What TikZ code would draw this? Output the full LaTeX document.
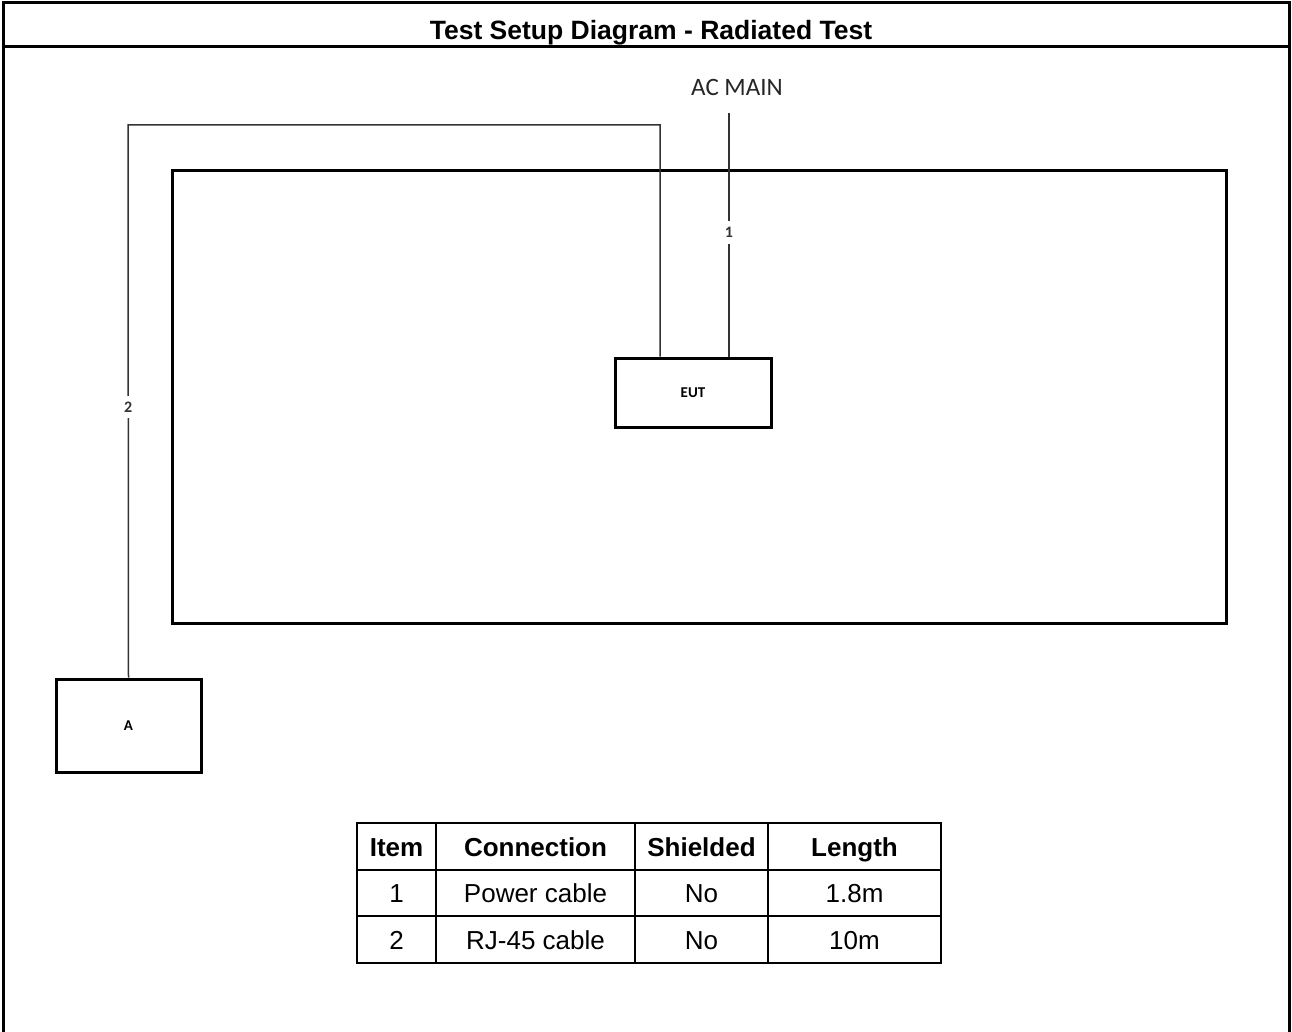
\documentclass[tikz,border=0pt]{standalone}
\usepackage{fontspec}
\setmainfont{Liberation Sans}
\newfontfamily\calibri{Carlito}
\usepackage{tikz}
\usetikzlibrary{positioning,calc}

\tikzset{
  frameline/.style={line width=3pt},
  boxline/.style={draw, line width=3pt, inner sep=0pt},
  cable/.style={line width=1.5pt, black!80},
  tag/.style={fill=white, inner xsep=3pt, inner ysep=6pt, font=\calibri\bfseries\fontsize{16}{18}\selectfont},
  tableline/.style={line width=2pt},
  cell/.style={inner sep=0pt, anchor=base, font=\fontsize{26}{30}\selectfont},
  headcell/.style={cell, font=\bfseries\fontsize{26}{30}\selectfont}
}

\begin{document}
\begin{tikzpicture}[x=1pt, y=-1pt]
        \useasboundingbox (0,0) rectangle (1292,1032);

        % Frame and title
        \draw[frameline] (3,1032) -- (3,3) -- (1289,3) -- (1289,1032);
        \draw[frameline] (3,47) -- (1289,47);
        \node[font=\bfseries\fontsize{26.5}{30}\selectfont, anchor=base] (title) at (651,40)
          {Test Setup Diagram - Radiated Test};

        % Table top and equipment
        \node[boxline, minimum width=1054pt, minimum height=452pt] (bench) at (699,397) {};
        \node[boxline, minimum width=156pt, minimum height=69pt,
          font=\calibri\bfseries\fontsize{15}{17}\selectfont] (eut) at (693,392.5) {EUT};
        \node[boxline, minimum width=145pt, minimum height=93pt,
          font=\calibri\bfseries\fontsize{15}{17}\selectfont] (aux) at (128.5,725.5) {A};

        % Power source
        \node[font=\calibri\fontsize{25}{30}\selectfont, text=black!85] (ac) at (737,87) {AC MAIN};
        \coordinate (acend) at (729,113);

        % Cables
        \draw[cable] (acend) -- (acend |- eut.north)
          node[tag, pos=0.49] (c1) {1};
        \draw[cable] (aux.north) -- (128,125)
          node[tag, pos=0.49] (c2) {2}
          -| ($(eut.north)+(-33,0)$);

        % Cable table
        \draw[tableline] (357,823) rectangle (941,963);
        \foreach \x in {436,635,768}
          \draw[tableline] (\x,823) -- (\x,963);
        \foreach \y in {870,916}
          \draw[tableline] (357,\y) -- (941,\y);

        \node[headcell] (hitem) at (396.5,856) {Item};
        \node[headcell] (hconn) at (535.5,856) {Connection};
        \node[headcell] (hshld) at (701.5,856) {Shielded};
        \node[headcell] (hlen)  at (854.5,856) {Length};

        \node[cell] (item1) at (396.5,902) {1};
        \node[cell] (conn1) at (535.5,902) {Power cable};
        \node[cell] (shld1) at (701.5,902) {No};
        \node[cell] (len1)  at (854.5,902) {1.8m};

        \node[cell] (item2) at (396.5,949) {2};
        \node[cell] (conn2) at (535.5,949) {RJ-45 cable};
        \node[cell] (shld2) at (701.5,949) {No};
        \node[cell] (len2)  at (854.5,949) {10m};
      \end{tikzpicture}
\end{document}
